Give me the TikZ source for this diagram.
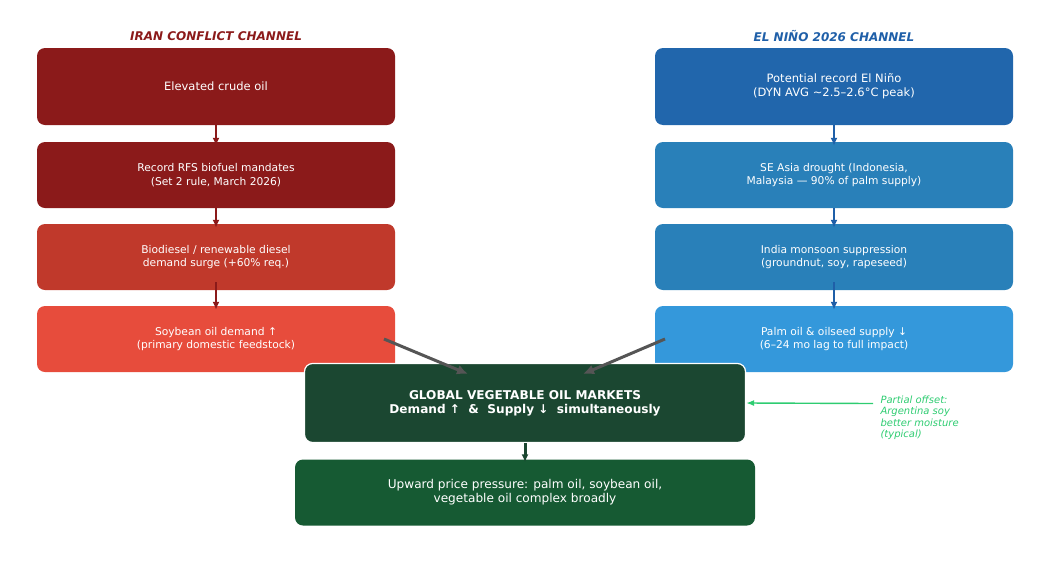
\documentclass[tikz,border=0pt]{standalone}
\usepackage{fontspec}
\setmainfont{DejaVu Sans}
\usetikzlibrary{arrows.meta}
\definecolor{iranred}{HTML}{8B1A1A}
\definecolor{iranmid}{HTML}{C0392B}
\definecolor{iranlight}{HTML}{E74C3C}
\definecolor{ninodark}{HTML}{2166AC}
\definecolor{ninomid}{HTML}{2980B9}
\definecolor{ninolight}{HTML}{3498DB}
\definecolor{ninotitle}{HTML}{1F5FA8}
\definecolor{marketgreen}{HTML}{1B4731}
\definecolor{pricegreen}{HTML}{165A33}
\definecolor{offsetgreen}{HTML}{2ECC71}
\definecolor{joingray}{HTML}{555555}
\begin{document}
\begin{tikzpicture}
        [x=1pt,y=-1pt,
         chainbox/.style={rounded corners=8pt,text=white,align=center,
           minimum width=358pt,font=\fontsize{10.7}{13.8}\selectfont},
         chaintitle/.style={font=\fontsize{12}{14}\selectfont\bfseries\itshape},
         chainarrow/.style={-{Latex[length=8pt,width=7pt]},line width=2pt,shorten >=-4pt}]
        \useasboundingbox (0,0) rectangle (1054,560);

        % Iran conflict channel
        \node[chaintitle,text=iranred] (ltitle) at (216,36) {IRAN CONFLICT CHANNEL};
        \node[chainbox,fill=iranred,minimum height=77pt,font=\fontsize{11.5}{14}\selectfont] (crude) at (216,86.5) {Elevated crude oil};
        \node[chainbox,fill=iranred,minimum height=66pt] (rfs) at (216,175) {Record RFS biofuel mandates\\(Set 2 rule, March 2026)};
        \node[chainbox,fill=iranmid,minimum height=66pt] (biodiesel) at (216,257) {Biodiesel / renewable diesel\\demand surge (+60\% req.)};
        \node[chainbox,fill=iranlight,minimum height=66pt] (soy) at (216,339) {Soybean oil demand ↑\\(primary domestic feedstock)};

        % El Nino channel
        \node[chaintitle,text=ninotitle] (rtitle) at (834,36) {EL NIÑO 2026 CHANNEL};
        \node[chainbox,fill=ninodark,minimum height=77pt,font=\fontsize{11.5}{14}\selectfont] (nino) at (834,86.5) {Potential record El Niño\\(DYN AVG \textasciitilde2.5–2.6°C peak)};
        \node[chainbox,fill=ninomid,minimum height=66pt] (drought) at (834,175) {SE Asia drought (Indonesia,\\Malaysia — 90\% of palm supply)};
        \node[chainbox,fill=ninomid,minimum height=66pt] (monsoon) at (834,257) {India monsoon suppression\\(groundnut, soy, rapeseed)};
        \node[chainbox,fill=ninolight,minimum height=66pt] (palm) at (834,339) {Palm oil \& oilseed supply ↓\\(6–24 mo lag to full impact)};

        % markets and prices
        \node[chainbox,fill=marketgreen,draw=white,line width=1.2pt,minimum width=441pt,minimum height=79pt,
          font=\fontsize{12.1}{14}\selectfont\bfseries] (market) at (525,403) {GLOBAL VEGETABLE OIL MARKETS\\Demand ↑\ \ \&\ \ Supply ↓\ \ simultaneously};
        \node[chainbox,fill=pricegreen,minimum width=460pt,minimum height=66pt,font=\fontsize{12.1}{14}\selectfont] (price) at (525,492.5) {Upward price pressure: palm oil, soybean oil,\\vegetable oil complex broadly};
        \node[anchor=north west,align=left,text=offsetgreen,font=\fontsize{10}{11.5}\selectfont\itshape] (offset) at (877,392) {Partial offset:\\Argentina soy\\better moisture\\(typical)};

        \draw[chainarrow,iranred] (crude) -- (rfs);
        \draw[chainarrow,iranred] (rfs) -- (biodiesel);
        \draw[chainarrow,iranred,line width=2.6pt,shorten <=-8pt] (biodiesel) -- (soy);
        \draw[chainarrow,ninotitle] (nino) -- (drought);
        \draw[chainarrow,ninotitle] (drought) -- (monsoon);
        \draw[chainarrow,ninotitle,line width=2.6pt,shorten <=-8pt] (monsoon) -- (palm);

        \coordinate (soyend) at (384,339);
        \coordinate (palmend) at (665,339);
        \coordinate (soyhit) at (468,374);
        \coordinate (palmhit) at (583,374);
        \draw[-{Latex[length=11pt,width=10pt]},joingray,line width=3pt] (soyend) -- (soyhit);
        \draw[-{Latex[length=11pt,width=10pt]},joingray,line width=3pt] (palmend) -- (palmhit);
        \draw[chainarrow,marketgreen,line width=3pt,shorten >=-3pt] (market) -- (price);
        \coordinate (offsetend) at (873,403.5);
        \draw[-{Latex[length=8pt,width=6pt]},offsetgreen,line width=1.4pt] (offsetend) -- (market.east);
      \end{tikzpicture}
\end{document}
